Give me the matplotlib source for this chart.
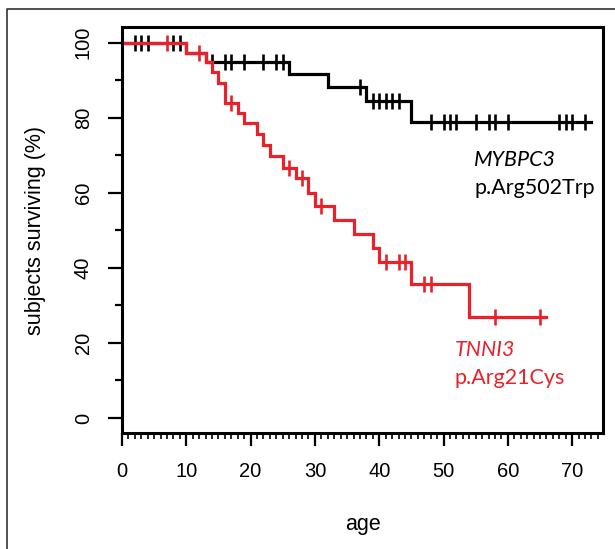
import matplotlib
matplotlib.use("Agg")
import matplotlib.pyplot as plt
from matplotlib.lines import Line2D
import numpy as np

# MYBPC3 p.Arg502Trp (black): step times and survival (%)
mybpc3_t = [0, 10, 13, 26, 32, 38, 45, 73]
mybpc3_s = [100, 97.4, 94.9, 91.8, 88.3, 84.5, 79.0, 79.0]
mybpc3_cens_t = [2, 3, 4, 8, 9, 14, 16, 17, 19, 22, 24, 25, 37, 39, 40, 41, 42, 43,
                 48, 50, 51, 52, 55, 57, 58, 60, 68, 69, 70, 72]
mybpc3_cens_s = [100, 100, 100, 100, 100, 94.9, 94.9, 94.9, 94.9, 94.9, 94.9, 94.9,
                 88.3, 84.5, 84.5, 84.5, 84.5, 84.5,
                 79.0, 79.0, 79.0, 79.0, 79.0, 79.0, 79.0, 79.0, 79.0, 79.0, 79.0, 79.0]

# TNNI3 p.Arg21Cys (red)
tnni3_t = [0, 10, 13, 14, 15, 16, 18, 19, 21, 22, 23, 25, 27, 29, 30, 33, 36, 39, 40, 45, 54, 66]
tnni3_s = [100, 97.4, 94.9, 92.1, 89.2, 84.0, 81.4, 78.5, 75.6, 72.7, 69.9, 66.5, 63.9,
           60.0, 56.5, 52.8, 49.0, 45.2, 41.5, 35.7, 26.8, 26.8]
tnni3_cens_t = [7, 12, 17, 26, 28, 31, 41, 43, 44, 47, 48, 58, 65]
tnni3_cens_s = [100, 97.4, 84.0, 66.5, 63.9, 56.5, 41.5, 41.5, 41.5, 35.7, 35.7, 26.8, 26.8]

red = '#E8212B'

fig = plt.figure(figsize=(6.15, 5.49), dpi=100)
ax = fig.add_axes([0.1984, 0.2113, 0.9805 - 0.1984, 0.9508 - 0.2113])

ax.step(mybpc3_t, mybpc3_s, where='post', color='black', lw=2.3, solid_joinstyle='miter')
ax.plot(mybpc3_cens_t, mybpc3_cens_s, '|', color='black', ms=11, mew=1.9)
ax.step(tnni3_t, tnni3_s, where='post', color=red, lw=2.3, solid_joinstyle='miter')
ax.plot(tnni3_cens_t, tnni3_cens_s, '|', color=red, ms=11, mew=1.9)

ax.set_xlim(0, 74.8)
ax.set_ylim(-4, 104.2)

for s in ax.spines.values():
    s.set_linewidth(2.2)

ax.set_xticks(np.arange(0, 71, 10))
ax.set_xticks(np.arange(0, 75, 1), minor=True)
ax.set_yticks(np.arange(0, 101, 20))
ax.set_yticks(np.arange(10, 100, 20), minor=True)

tick_font = dict(family='Liberation Sans', size=14.5)
ax.set_xticklabels([str(v) for v in range(0, 71, 10)], fontdict=tick_font)
ax.set_yticklabels([str(v) for v in range(0, 101, 20)], fontdict=tick_font,
                   rotation=90, va='center')
ax.tick_params(axis='x', which='major', length=9, width=1.6, pad=12)
ax.tick_params(axis='x', which='minor', length=4, width=1.2)
ax.tick_params(axis='y', which='major', length=10, width=1.6, pad=11)
ax.tick_params(axis='y', which='minor', length=5, width=1.6)

ax.set_xlabel('age', family='Liberation Sans', fontsize=15.5, labelpad=24)
ax.set_ylabel('subjects surviving (%)', family='Liberation Sans', fontsize=15.5, labelpad=20)

ax.text(54.8, 68.7, 'MYBPC3', style='italic', family='Lato', fontsize=15.5,
        color='black', va='center', ha='left')
ax.text(54.8, 61.3, 'p.Arg502Trp', family='Lato', fontsize=15.5,
        color='black', va='center', ha='left')
ax.text(51.7, 18.1, 'TNNI3', style='italic', family='Lato', fontsize=15.5,
        color=red, va='center', ha='left')
ax.text(51.7, 10.7, 'p.Arg21Cys', family='Lato', fontsize=15.5,
        color=red, va='center', ha='left')

# outer frame (top and left edges)
fig.add_artist(Line2D([7 / 615, 7 / 615, 1.0], [0.0, 1 - 8.5 / 549, 1 - 8.5 / 549],
                      transform=fig.transFigure, color='#333333', lw=1.2))

fig.savefig('out.png', dpi=100)
